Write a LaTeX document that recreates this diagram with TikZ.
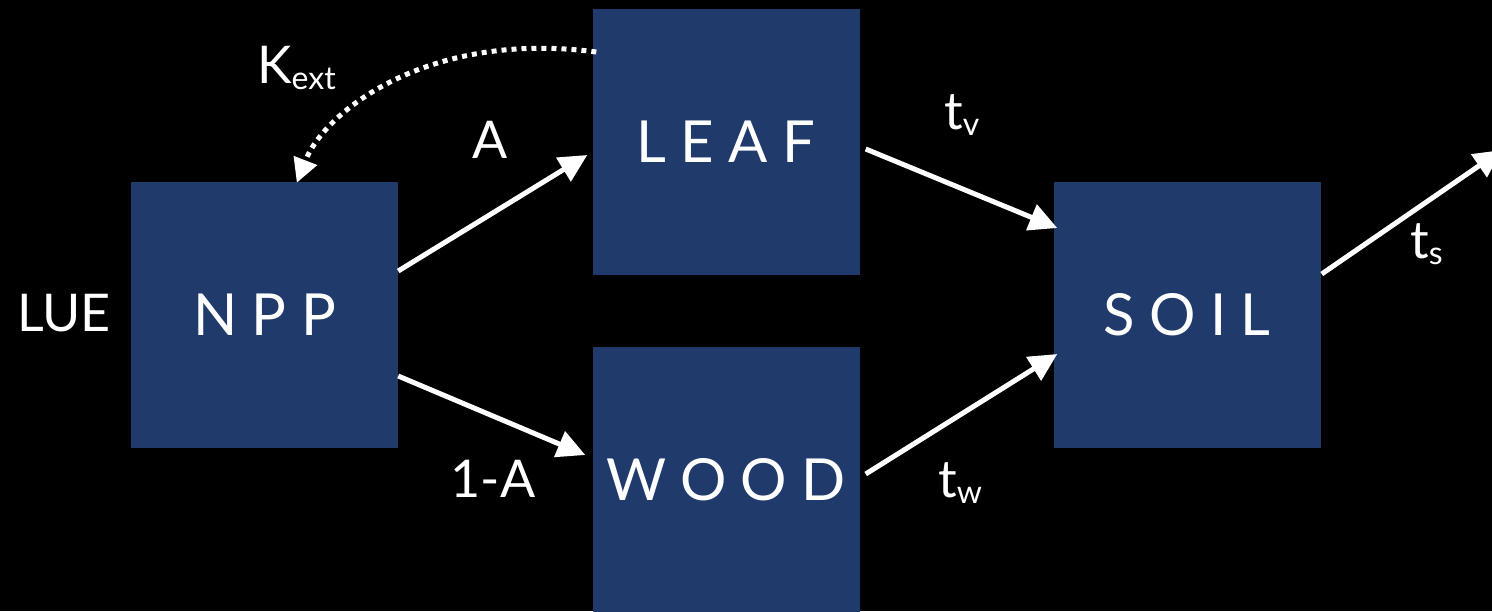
\documentclass[tikz,border=0pt]{standalone}
\usepackage{fontspec}
\setmainfont{Lato}
\newfontfamily\poolfont[LetterSpace=25]{Lato}
\usetikzlibrary{arrows.meta}
\definecolor{poolblue}{RGB}{31,58,107}
% lowered subscript for the rate labels
\newcommand\ratesub[1]{\raisebox{-6pt}{\fontsize{32}{32}\selectfont #1}}
\begin{document}
\begin{tikzpicture}[x=1pt,y=-1pt,
  pool/.style={fill=poolblue, minimum width=267pt, minimum height=266pt,
    inner sep=0pt, text=white, font=\poolfont\fontsize{58}{58}\selectfont},
  flow/.style={draw=white, line width=5pt,
    -{Triangle[length=28pt,width=27pt]}},
  feedback/.style={draw=white, line width=5pt, dash pattern=on 5pt off 5pt,
    -{Triangle[length=24pt,width=24pt]}},
  lbl/.style={text=white, inner sep=0pt, font=\fontsize{52}{52}\selectfont},
]
\fill[black] (0,0) rectangle (1492,611);
\useasboundingbox (0,0) rectangle (1492,611);

% carbon pools
\node[pool] (npp)  at (264.5,315) {NPP};
\node[pool] (leaf) at (726,142)   {LEAF};
\node[pool] (wood) at (726,480)   {WOOD};
\node[pool] (soil) at (1187,315)  {SOIL};
\coordinate (out) at (1502,150);

% fluxes
\draw[flow] ([yshift=44pt]npp.east) -- ([xshift=-5pt,yshift=-13pt]leaf.west);
\draw[flow] ([yshift=-61pt]npp.east) -- ([xshift=-7pt,yshift=25pt]wood.west);
\draw[flow] ([xshift=6pt,yshift=-7pt]leaf.east) -- ([xshift=4pt,yshift=87pt]soil.west);
\draw[flow] ([xshift=6pt,yshift=6pt]wood.east) -- ([xshift=4pt,yshift=-39pt]soil.west);
\draw[flow] ([xshift=1pt,yshift=41pt]soil.east) -- (out);

% light extinction feedback from the canopy
\draw[feedback] ([xshift=4pt,yshift=90pt]leaf.west)
  .. controls (430,30) and (325,110) .. ([xshift=166pt,yshift=-1pt]npp.north west);

% labels
\node[lbl] (lue) at (64,313) {LUE};
\node[lbl, anchor=base west] (kext) at (257,83) {K\ratesub{ext}};
\node[lbl, anchor=base] (a) at (490,158) {A};
\node[lbl, anchor=base] (oneminusa) at (493,497) {1-A};
\node[lbl, anchor=base west] (tv) at (944,129) {t\ratesub{v}};
\node[lbl, anchor=base west] (tw) at (938,497) {t\ratesub{w}};
\node[lbl, anchor=base west] (ts) at (1410,258) {t\ratesub{s}};
\end{tikzpicture}
\end{document}
